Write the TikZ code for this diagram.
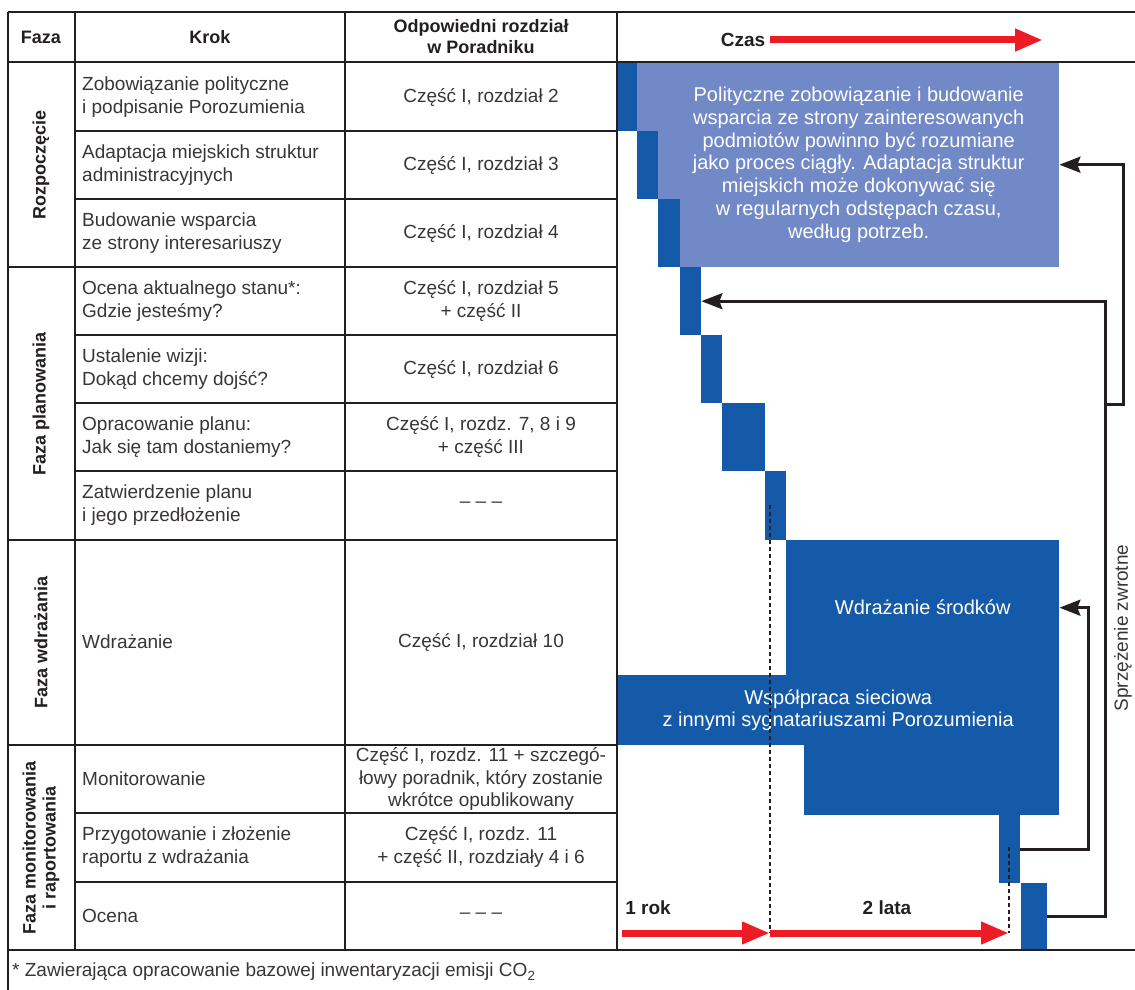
\documentclass[tikz,border=0pt]{standalone}
\usepackage{fontspec}
\setmainfont{Liberation Sans}
\usetikzlibrary{arrows.meta}
\definecolor{ciemny}{HTML}{155AA8}
\definecolor{jasny}{HTML}{7189C6}
\definecolor{czerw}{HTML}{ED1C24}
\definecolor{linia}{HTML}{231F20}

\begin{document}
\begin{tikzpicture}[x=1pt, y=-1pt,
  txt/.style={font=\fontsize{19}{23}\selectfont, text=linia!90, inner sep=0pt},
  hd/.style={font=\bfseries\fontsize{18}{21}\selectfont, text=linia, inner sep=0pt},
  krok/.style={txt, anchor=west, align=left},
  rozdz/.style={txt, align=center},
  faza/.style={hd, rotate=90, align=center},
  blok/.style={fill=ciemny, inner sep=0pt, anchor=north west},
  opis/.style={font=\fontsize{20}{22.8}\selectfont, text=white, align=center},
  fb/.style={draw=linia, line width=3pt, -{Stealth[length=21pt,width=16pt,inset=3pt]}},
  czas/.style={draw=czerw, line width=7pt, -{Triangle[length=28pt,width=21pt]}},
  kreska/.style={draw=linia, line width=1.4pt, dash pattern=on 4pt off 3pt},
  cienka/.style={draw=linia, line width=1.4pt},
  gruba/.style={draw=linia, line width=2.6pt}]
\useasboundingbox (0,0) rectangle (1135,990);

% os czasu: kroki
\fill[jasny] (637,62) rectangle (658,131);
\node[blok, fill=jasny, minimum width=401pt, minimum height=205pt, opis] (pol) at (658,62)
  {Polityczne zobowiązanie i budowanie\\wsparcia ze strony zainteresowanych\\podmiotów powinno być rozumiane\\jako proces ciągły. Adaptacja struktur\\miejskich może dokonywać się\\w regularnych odstępach czasu,\\według potrzeb.};
\node[blok, minimum width=20pt, minimum height=69pt] (s1) at (617,62) {};
\node[blok, minimum width=21pt, minimum height=68pt] (s2) at (637,131) {};
\node[blok, minimum width=22pt, minimum height=68pt] (s3) at (658,199) {};
\node[blok, minimum width=21pt, minimum height=68pt] (s4) at (680,267) {};
\node[blok, minimum width=21pt, minimum height=68pt] (s5) at (701,335) {};
\node[blok, minimum width=43pt, minimum height=68pt] (s6) at (722,403) {};
\node[blok, minimum width=21pt, minimum height=69pt] (s7) at (765,471) {};
\node[blok, minimum width=273pt, minimum height=135pt, opis] (wdr) at (786,540) {Wdrażanie środków};
\node[blok, minimum width=442pt, minimum height=70pt, opis] (wsp) at (617,675)
  {Współpraca sieciowa\\z innymi sygnatariuszami Porozumienia};
\node[blok, minimum width=255pt, minimum height=70pt] (mon) at (804,745) {};
\node[blok, minimum width=21pt, minimum height=68pt] (s9) at (999,815) {};
\node[blok, minimum width=26pt, minimum height=67pt] (s10) at (1021,883) {};

% siatka tabeli
\draw[gruba] (8,12) -- (1135,12);
\draw[gruba] (8,62) -- (1135,62);
\draw[gruba] (8,950) -- (1135,950);
\foreach \y in {267,540,745} \draw[gruba] (8,\y) -- (617,\y);
\foreach \y in {131,199,335,403,471,813,882} \draw[cienka] (75,\y) -- (617,\y);
\draw[gruba] (8,12) -- (8,990);
\draw[gruba] (75,12) -- (75,950);
\draw[gruba] (345,12) -- (345,950);
\draw[gruba] (617,12) -- (617,950);

% naglowek
\node[hd] (h1) at (41,37) {Faza};
\node[hd] (h2) at (210,37) {Krok};
\node[hd, align=center] (h3) at (481,37) {Odpowiedni rozdział\\w Poradniku};
\node[hd, font=\bfseries\fontsize{19}{22}\selectfont] (czas) at (743,40) {Czas};
\coordinate (c1) at (1043,40);
\draw[czas] ([xshift=5pt]czas.east) -- (c1);

% fazy
\node[faza] (f1) at (41,165) {Rozpoczęcie};
\node[faza] (f2) at (41,404) {Faza planowania};
\node[faza] (f3) at (41,642) {Faza wdrażania};
\node[faza, font=\bfseries\fontsize{18}{20}\selectfont] (f4) at (41,848) {Faza monitorowania\\i raportowania};

% kroki
\node[krok] (k1) at (82,97) {Zobowiązanie polityczne\\i podpisanie Porozumienia};
\node[krok] (k2) at (82,165) {Adaptacja miejskich struktur\\administracyjnych};
\node[krok] (k3) at (82,233) {Budowanie wsparcia\\ze strony interesariuszy};
\node[krok] (k4) at (82,301) {Ocena aktualnego stanu*:\\Gdzie jesteśmy?};
\node[krok] (k5) at (82,369) {Ustalenie wizji:\\Dokąd chcemy dojść?};
\node[krok] (k6) at (82,437) {Opracowanie planu:\\Jak się tam dostaniemy?};
\node[krok] (k7) at (82,505) {Zatwierdzenie planu\\i jego przedłożenie};
\node[krok] (k8) at (82,642) {Wdrażanie};
\node[krok] (k9) at (82,779) {Monitorowanie};
\node[krok] (k10) at (82,847) {Przygotowanie i złożenie\\raportu z wdrażania};
\node[krok] (k11) at (82,916) {Ocena};

% rozdzialy
\node[rozdz] (r1) at (481,97) {Część I, rozdział 2};
\node[rozdz] (r2) at (481,165) {Część I, rozdział 3};
\node[rozdz] (r3) at (481,233) {Część I, rozdział 4};
\node[rozdz] (r4) at (481,301) {Część I, rozdział 5\\+ część II};
\node[rozdz] (r5) at (481,369) {Część I, rozdział 6};
\node[rozdz] (r6) at (481,437) {Część I, rozdz. 7, 8 i 9\\+ część III};
\node[rozdz] (r7) at (481,505) {– – –};
\node[rozdz] (r8) at (481,642) {Część I, rozdział 10};
\node[rozdz, font=\fontsize{19}{22.5}\selectfont] (r9) at (481,779) {Część I, rozdz. 11 + szczegó-\\łowy poradnik, który zostanie\\wkrótce opublikowany};
\node[rozdz] (r10) at (481,847) {Część I, rozdz. 11\\+ część II, rozdziały 4 i 6};
\node[rozdz] (r11) at (481,916) {– – –};

% lata
\coordinate (t0) at (622,933);
\coordinate (t1) at (770,933);
\coordinate (t2) at (1009,933);
\coordinate (d1) at (770,505);
\coordinate (d2) at (1009,847);
\draw[kreska] (d1) -- (t1);
\draw[kreska] (d2) -- (t2);
\draw[czas] (t0) -- (t1);
\draw[czas] (t1) -- (t2);
\node[hd, font=\bfseries\fontsize{19}{22}\selectfont] (l1) at (648,908) {1 rok};
\node[hd, font=\bfseries\fontsize{19}{22}\selectfont] (l2) at (887,908) {2 lata};

% sprzezenie zwrotne
\coordinate (j) at (1105,404);
\draw[fb] (s10.east) -- ++(58,0) |- (s4.east);
\draw[fb] (j) -- ++(18,0) |- (pol.east);
\draw[fb] (s9.east) -- ++(68,0) |- (wdr.east);
\node[txt, rotate=90] (sz) at (1123,628) {Sprzężenie zwrotne};

% przypis
\node[txt, anchor=west] (fn) at (12,972) {* Zawierająca opracowanie bazowej inwentaryzacji emisji CO\textsubscript{2}};
\end{tikzpicture}
\end{document}
